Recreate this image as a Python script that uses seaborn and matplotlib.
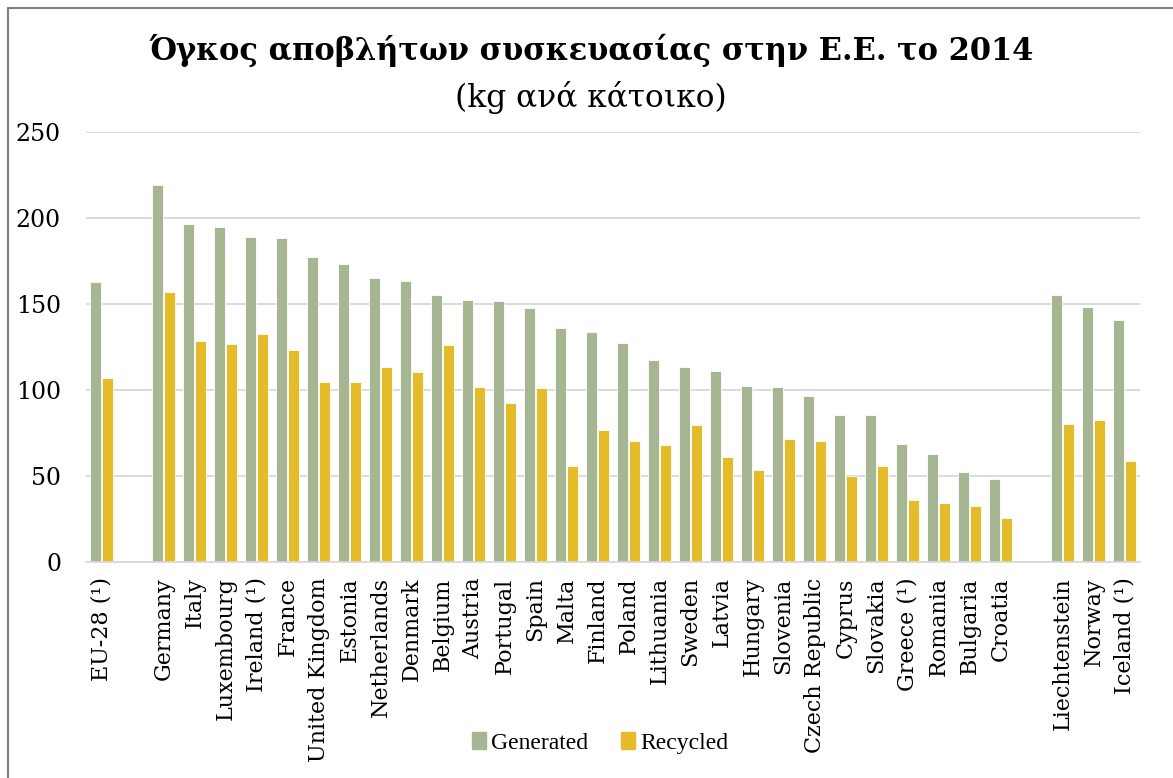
import matplotlib
matplotlib.use("Agg")
import matplotlib.pyplot as plt
from matplotlib.lines import Line2D
import seaborn as sns
import pandas as pd

countries = ["EU-28 (¹)", "", "Germany", "Italy", "Luxembourg", "Ireland (¹)", "France",
             "United Kingdom", "Estonia", "Netherlands", "Denmark", "Belgium", "Austria",
             "Portugal", "Spain", "Malta", "Finland", "Poland", "Lithuania", "Sweden",
             "Latvia", "Hungary", "Slovenia", "Czech Republic", "Cyprus", "Slovakia",
             "Greece (¹)", "Romania", "Bulgaria", "Croatia", " ", "Liechtenstein",
             "Norway", "Iceland (¹)"]
generated = [162.7, None, 219.4, 196.7, 194.9, 189.1, 188.5, 177.1, 173.2, 165.2, 163.3,
             155.4, 152.6, 151.5, 147.6, 136.0, 134.0, 127.4, 117.5, 113.3, 110.9, 102.4,
             101.6, 96.8, 85.5, 85.3, 68.5, 62.6, 52.4, 48.1, None, 155.0, 148.4, 140.6]
recycled = [106.7, None, 156.7, 128.4, 126.6, 132.7, 123.2, 104.5, 104.5, 113.3, 110.4,
            126.3, 101.6, 92.3, 101.4, 55.9, 77.0, 70.6, 67.9, 79.9, 61.1, 53.7,
            71.4, 70.6, 50.2, 56.1, 35.9, 34.3, 32.6, 25.6, None, 80.5, 82.8, 58.8]
series_names = ["Generated", "Recycled"]
colors = ["#A6B592", "#E4BC2A"]
yticks = [0, 50, 100, 150, 200, 250]

rows = []
for c, g, r in zip(countries, generated, recycled):
    if g is not None:
        rows.append({"country": c, "series": series_names[0], "value": g})
    if r is not None:
        rows.append({"country": c, "series": series_names[1], "value": r})
df = pd.DataFrame(rows)

sns.set_style("white")
plt.rcParams["font.family"] = ["DejaVu Serif"]
plt.rcParams["text.color"] = "black"
plt.rcParams["xtick.color"] = "black"
plt.rcParams["ytick.color"] = "black"

fig = plt.figure(figsize=(11.73, 7.78), dpi=100)
ax = fig.add_axes([86 / 1173, 1 - 562 / 778, (1140 - 86) / 1173, (562 - 132) / 778])

sns.barplot(data=df, x="country", y="value", hue="series", order=countries,
            hue_order=series_names, palette=colors, width=0.74, gap=0.06,
            saturation=1, edgecolor="white", linewidth=0.6, ax=ax, legend=False)

ax.set_ylim(0, 250)
ax.set_xlim(-0.5, len(countries) - 0.5)
ax.set_yticks(yticks)
ax.set_yticklabels([str(v) for v in yticks], fontsize=17, family="DejaVu Serif")
ax.yaxis.grid(True, color="#D9D9D9", linewidth=1.3)
ax.set_axisbelow(True)
for s in ["top", "right", "left"]:
    ax.spines[s].set_visible(False)
ax.spines["bottom"].set_color("#D9D9D9")
ax.spines["bottom"].set_linewidth(1.3)
ax.tick_params(axis="y", length=0, pad=18)
ax.tick_params(axis="x", length=0, pad=11)
ax.set_xticks(range(len(countries)))
ax.set_xticklabels(countries, rotation=90, fontsize=16, family="DejaVu Serif",
                   va="top", ha="center")
ax.set_xlabel("")
ax.set_ylabel("")

fig.text(0.504, 1 - 50 / 778, "Όγκος αποβλήτων συσκευασίας στην Ε.Ε. το 2014",
         ha="center", va="center", fontsize=22, fontweight="bold", family="DejaVu Serif")
fig.text(0.504, 1 - 97 / 778, "(kg ανά κάτοικο)", ha="center", va="center",
         fontsize=22.5, family="DejaVu Serif")

handles = [plt.Rectangle((0, 0), 1, 1, color=c) for c in colors]
fig.legend(handles, series_names, loc="center", bbox_to_anchor=(600 / 1173, 1 - 743 / 778),
           ncol=2, frameon=False, handlelength=0.6, handleheight=0.7, handletextpad=0.2,
           columnspacing=1.4, prop={"family": "Liberation Serif", "size": 17})

fig.add_artist(Line2D([8 / 1173, 1], [1 - 8 / 778, 1 - 8 / 778], transform=fig.transFigure,
                      color="#7F7F7F", linewidth=1.5))
fig.add_artist(Line2D([8 / 1173, 8 / 1173], [0, 1 - 8 / 778], transform=fig.transFigure,
                      color="#7F7F7F", linewidth=1.5))

fig.savefig("out.png", dpi=100, facecolor="white")
